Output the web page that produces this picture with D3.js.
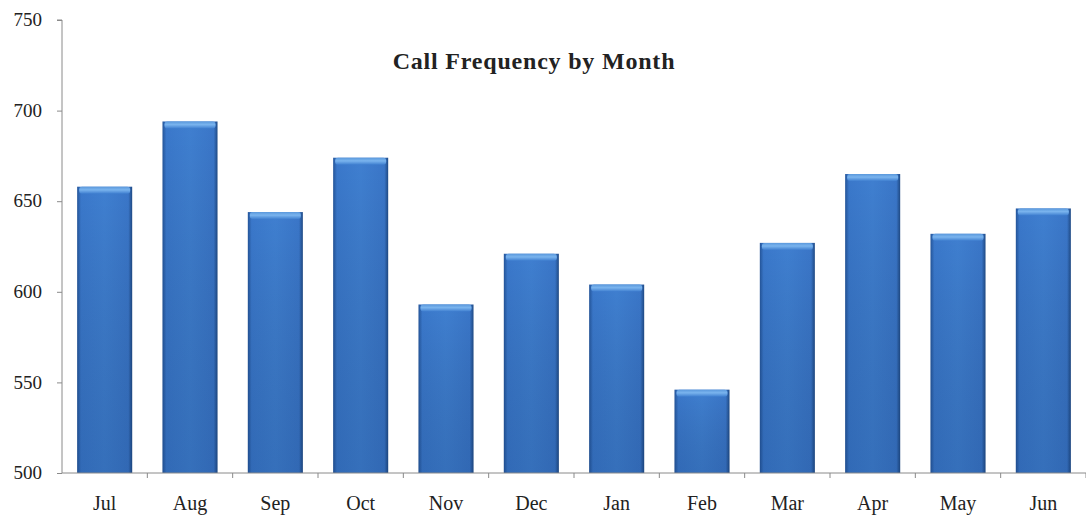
<!DOCTYPE html>
<html><head><meta charset="utf-8">
<script src="https://cdn.jsdelivr.net/npm/d3@7"></script>
<style>
html,body{margin:0;padding:0;background:#fff;}
svg{display:block;}
text{font-family:"Liberation Serif","DejaVu Serif",serif;}
</style></head>
<body><svg id="c" width="1086" height="517"></svg>
<script>
const months = ["Jul","Aug","Sep","Oct","Nov","Dec","Jan","Feb","Mar","Apr","May","Jun"];
const calls = [658,694,644,674,593,621,604,546,627,665,632,646];
const yTicks = [500,550,600,650,700,750];
const title = "Call Frequency by Month";

const svg = d3.select("#c");
const mLeft = 62, mRight = 1086, mTop = 20, mBottom = 473;
const x = d3.scaleBand().domain(months).range([mLeft, mRight]).paddingInner(0.355).paddingOuter(0.1775);
const xb = d3.scaleBand().domain(months).range([mLeft, mRight]);
const y = d3.scaleLinear().domain([500,750]).range([mBottom, mTop]);

const defs = svg.append("defs");
const gh = defs.append("linearGradient").attr("id","gh").attr("x1",0).attr("x2",1).attr("y1",0).attr("y2",0);
gh.append("stop").attr("offset","0%").attr("stop-color","#24559a");
gh.append("stop").attr("offset","7%").attr("stop-color","#3a78cb");
gh.append("stop").attr("offset","50%").attr("stop-color","#3f7fd0");
gh.append("stop").attr("offset","93%").attr("stop-color","#3a76c8");
gh.append("stop").attr("offset","100%").attr("stop-color","#1f4a85");
const gv = defs.append("linearGradient").attr("id","gv").attr("x1",0).attr("x2",0).attr("y1",0).attr("y2",1);
gv.append("stop").attr("offset","0%").attr("stop-color","#000").attr("stop-opacity",0);
gv.append("stop").attr("offset","100%").attr("stop-color","#0a2a5a").attr("stop-opacity",0.18);
const gt = defs.append("linearGradient").attr("id","gt").attr("x1",0).attr("x2",0).attr("y1",0).attr("y2",1);
gt.append("stop").attr("offset","0%").attr("stop-color","#5a98dc");
gt.append("stop").attr("offset","45%").attr("stop-color","#7ab4ee");
gt.append("stop").attr("offset","100%").attr("stop-color","#3f7fd0");

const bars = svg.append("g");
months.forEach((m,i)=>{
  const bx = x(m), bw = x.bandwidth(), by = y(calls[i]), bh = y(500)-y(calls[i]);
  bars.append("rect").attr("x",bx).attr("y",by).attr("width",bw).attr("height",bh).attr("fill","url(#gh)");
  bars.append("rect").attr("x",bx).attr("y",by).attr("width",bw).attr("height",bh).attr("fill","url(#gv)");
  bars.append("rect").attr("x",bx+2).attr("y",by).attr("width",bw-4).attr("height",7).attr("rx",3).attr("fill","url(#gt)");
});

// axes
const ya = svg.append("g").attr("transform",`translate(${mLeft},0)`)
  .call(d3.axisLeft(y).tickValues(yTicks).tickSize(5).tickPadding(15).tickFormat(d3.format("d")));
ya.select(".domain").attr("stroke","#8a8a8a").attr("d",`M-5,${mTop}H0V${mBottom}`);
ya.selectAll(".tick line").attr("stroke","#8a8a8a");
ya.selectAll("text").attr("font-size",19).attr("fill","#222").attr("font-family","Liberation Serif, serif").attr("dy","0.3em");

const xa = svg.append("g").attr("transform",`translate(0,${mBottom})`);
xa.append("line").attr("x1",mLeft).attr("x2",mRight).attr("y1",0).attr("y2",0).attr("stroke","#8a8a8a");
xa.selectAll("line.t").data(months).enter().append("line").attr("class","t")
  .attr("x1",d=>xb(d)+xb.bandwidth()).attr("x2",d=>xb(d)+xb.bandwidth()).attr("y1",0).attr("y2",5).attr("stroke","#8a8a8a");
xa.selectAll("text").data(months).enter().append("text")
  .attr("x",d=>xb(d)+xb.bandwidth()/2).attr("y",37).attr("text-anchor","middle")
  .attr("font-size",20).attr("fill","#222").text(d=>d);

svg.append("text").attr("x",534).attr("y",69).attr("text-anchor","middle")
  .attr("font-size",24).attr("font-weight","bold").attr("letter-spacing",0.8).attr("fill","#222").text(title);
</script></body></html>
